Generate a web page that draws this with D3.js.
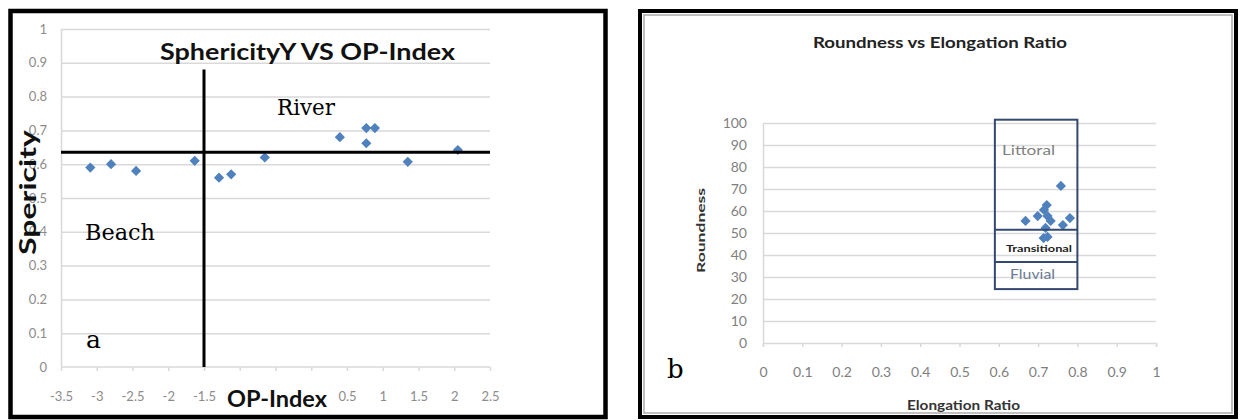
<!DOCTYPE html>
<meta charset="utf-8">
<style>
    body { margin: 0; background: #fff; }
    .grid line { stroke: #d9d9d9; stroke-width: 1.5px; }
    .axis path, .axis line { stroke: #d9d9d9; stroke-width: 1.5px; }
    .axis text { font-family: Lato, "Open Sans", sans-serif; }
</style>
<svg width="1242" height="420"></svg>
<script src="https://d3js.org/d3.v7.min.js"></script>
<script>

    var svg = d3.select("svg");

    // panel a: sphericity vs OP-index
    var opIndex    = [-3.09, -2.80, -2.45, -1.63, -1.29, -1.12, -0.65, 0.40, 0.77, 0.89, 0.77, 1.35, 2.05];
    var sphericity = [0.59, 0.60, 0.58, 0.61, 0.56, 0.57, 0.62, 0.68, 0.707, 0.707, 0.662, 0.607, 0.642];
    var opTicks  = [-3.5, -3, -2.5, -2, -1.5, -1, -0.5, 0, 0.5, 1, 1.5, 2, 2.5];
    // -1, -0.5 and 0 sit under the axis title in the original, so they show no label
    var opLabels = ["-3.5", "-3", "-2.5", "-2", "-1.5", "", "", "", "0.5", "1", "1.5", "2", "2.5"];
    var sphTicks = [0, 0.1, 0.2, 0.3, 0.4, 0.5, 0.6, 0.7, 0.8, 0.9, 1];
    var opSplit = -1.5, sphSplit = 0.635, sphSplitTop = 0.88;

    // panel b: roundness vs elongation ratio
    var elongation = [0.758, 0.722, 0.715, 0.699, 0.724, 0.668, 0.732, 0.781, 0.763, 0.719, 0.724, 0.714];
    var roundness  = [71.4, 62.7, 60.5, 57.7, 57.7, 55.5, 55.5, 56.8, 53.6, 52.3, 48.2, 47.7];
    var elongTicks = [0, 0.1, 0.2, 0.3, 0.4, 0.5, 0.6, 0.7, 0.8, 0.9, 1];
    var roundTicks = [0, 10, 20, 30, 40, 50, 60, 70, 80, 90, 100];
    var boxElong = [0.59, 0.80];
    var boxRound = [24.5, 101.5];
    var boxSplits = [51.5, 36.8];

    var blue = "#4f81bd";
    var diamond = d3.symbol().type(d3.symbolSquare).size(52);

    function label(g, txt, x, y, opt) {
        var t = g.append("text")
                .attr("x", x).attr("y", y)
                .attr("font-family", opt.font || "Lato, sans-serif")
                .attr("font-size", opt.size)
                .attr("font-weight", opt.bold ? "bold" : "normal")
                .attr("fill", opt.fill || "#000")
                .text(txt);
        if (opt.len) t.attr("textLength", opt.len).attr("lengthAdjust", "spacingAndGlyphs");
        if (opt.rotate) t.attr("transform", "rotate(-90," + x + "," + y + ")");
        if (opt.anchor) t.attr("text-anchor", opt.anchor);
        return t;
    }

    // ---------------- panel a ----------------
    var xA = d3.scaleLinear().domain([-3.5, 2.5]).range([61, 490]);
    var yA = d3.scaleLinear().domain([0, 1]).range([367, 29]);
    var gA = svg.append("g");

    gA.append("g").attr("class", "grid")
            .attr("transform", "translate(61,0)")
            .call(d3.axisLeft(yA).tickValues(sphTicks.slice(1)).tickSize(-(xA.range()[1] - xA.range()[0])).tickFormat(""))
            .call(function(g) { g.select(".domain").remove(); });

    gA.append("g").attr("class", "axis")
            .attr("transform", "translate(61,0)")
            .call(d3.axisLeft(yA).tickValues(sphTicks).tickSize(0).tickPadding(14).tickFormat(String))
            .selectAll("text").attr("fill", "#8c8c8c").attr("font-size", 13);

    gA.append("g").attr("class", "axis")
            .attr("transform", "translate(0,367)")
            .call(d3.axisBottom(xA).tickValues(opTicks).tickSize(4).tickPadding(21)
                    .tickFormat(function(d, i) { return opLabels[i]; }))
            .call(function(g) { g.select(".domain").attr("d", "M" + xA.range()[0] + ",0H" + xA.range()[1]); })
            .selectAll("text").attr("fill", "#8c8c8c").attr("font-size", 13);

    gA.selectAll("path.pt")
            .data(opIndex)
            .enter().append("path")
            .attr("class", "pt")
            .attr("d", diamond)
            .attr("fill", blue)
            .attr("transform", function(d, i) { return "translate(" + xA(d) + "," + yA(sphericity[i]) + ") rotate(45)"; });

    // quadrant lines
    gA.append("line")
            .attr("x1", xA(opTicks[0])).attr("x2", xA(opTicks[opTicks.length - 1]))
            .attr("y1", yA(sphSplit)).attr("y2", yA(sphSplit))
            .attr("stroke", "#000").attr("stroke-width", 3);
    gA.append("line")
            .attr("x1", xA(opSplit)).attr("x2", xA(opSplit))
            .attr("y1", yA(0)).attr("y2", yA(sphSplitTop))
            .attr("stroke", "#000").attr("stroke-width", 3);

    label(gA, "SphericityY VS OP-Index", 160, 60, {size: 23, bold: true, len: 295, fill: "#111"});
    label(gA, "River", 277, 115, {font: "DejaVu Serif, serif", size: 22, len: 58});
    label(gA, "Beach", 85, 240, {font: "DejaVu Serif, serif", size: 22, len: 70});
    label(gA, "a", 86, 348, {font: "DejaVu Serif, serif", size: 25});
    label(gA, "Spericity", 36, 255, {size: 22, bold: true, len: 125, rotate: true, fill: "#111"});
    label(gA, "OP-Index", 227, 407, {size: 23, bold: true, len: 100, fill: "#111"});

    gA.append("rect")
            .attr("x", 10.5).attr("y", 11).attr("width", 595).attr("height", 406)
            .attr("fill", "none").attr("stroke", "#000").attr("stroke-width", 4.5);

    // ---------------- panel b ----------------
    var xB = d3.scaleLinear().domain([0, 1]).range([763, 1156]);
    var yB = d3.scaleLinear().domain([0, 100]).range([343, 123]);
    var gB = svg.append("g");

    gB.append("g").attr("class", "grid")
            .attr("transform", "translate(763,0)")
            .call(d3.axisLeft(yB).tickValues(roundTicks.slice(1)).tickSize(-(xB.range()[1] - xB.range()[0])).tickFormat(""))
            .call(function(g) { g.select(".domain").remove(); });

    gB.append("g").attr("class", "axis")
            .attr("transform", "translate(763,0)")
            .call(d3.axisLeft(yB).tickValues(roundTicks).tickSize(0).tickPadding(16).tickFormat(String))
            .selectAll("text").attr("fill", "#7f7f7f").attr("font-size", 14);

    gB.append("g").attr("class", "axis")
            .attr("transform", "translate(0,343)")
            .call(d3.axisBottom(xB).tickValues(elongTicks).tickSize(4).tickPadding(20).tickFormat(String))
            .selectAll("text").attr("fill", "#7f7f7f").attr("font-size", 14);

    gB.selectAll("path.pt")
            .data(elongation)
            .enter().append("path")
            .attr("class", "pt")
            .attr("d", diamond)
            .attr("fill", blue)
            .attr("transform", function(d, i) { return "translate(" + xB(d) + "," + yB(roundness[i]) + ") rotate(45)"; });

    // zone box
    var boxColor = "#34496f";
    gB.append("rect")
            .attr("x", xB(boxElong[0])).attr("y", yB(boxRound[1]))
            .attr("width", xB(boxElong[1]) - xB(boxElong[0]))
            .attr("height", yB(boxRound[0]) - yB(boxRound[1]))
            .attr("fill", "none").attr("stroke", boxColor).attr("stroke-width", 2);
    gB.selectAll("line.split")
            .data(boxSplits)
            .enter().append("line")
            .attr("class", "split")
            .attr("x1", xB(boxElong[0])).attr("x2", xB(boxElong[1]))
            .attr("y1", function(d) { return yB(d); }).attr("y2", function(d) { return yB(d); })
            .attr("stroke", boxColor).attr("stroke-width", 2);

    label(gB, "Littoral", 1002, 155, {size: 14, len: 53, fill: "#7f7f7f"});
    label(gB, "Transitional", 1006, 252, {size: 10, bold: true, len: 66, fill: "#222"});
    label(gB, "Fluvial", 1010, 279, {size: 14, len: 45, fill: "#6b7b94"});

    label(gB, "Roundness vs Elongation Ratio", 813, 48, {size: 16, bold: true, len: 254, fill: "#222"});
    label(gB, "Roundness", 705, 273, {size: 12, bold: true, len: 85, rotate: true, fill: "#333"});
    label(gB, "Elongation Ratio", 907, 410, {size: 13, bold: true, len: 113, fill: "#333"});
    label(gB, "b", 667, 378, {font: "DejaVu Serif, serif", size: 26});

    gB.append("rect")
            .attr("x", 640).attr("y", 11).attr("width", 596).attr("height", 406)
            .attr("fill", "none").attr("stroke", "#000").attr("stroke-width", 4);
    gB.append("rect")
            .attr("x", 644).attr("y", 15).attr("width", 588).attr("height", 398)
            .attr("fill", "none").attr("stroke", "#aaa").attr("stroke-width", 1.5);

</script>
